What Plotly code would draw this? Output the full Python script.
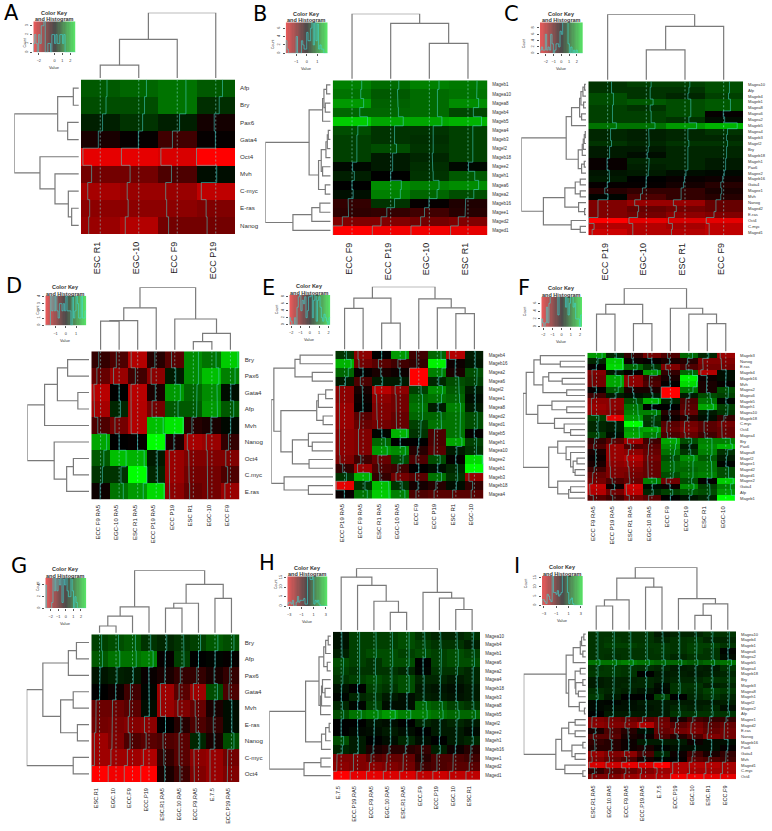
import plotly.graph_objects as go

# ---------- data: every value (scale -1 red ... 0 black ... +1 green) ----------
A_cols = ["ESC R1", "EGC-10", "ECC F9", "ECC P19"]
A_rows = ["Afp", "Bry", "Pax6", "Gata4", "Oct4", "Mvh", "C-myc", "E-ras", "Nanog"]
A_values = [
    [.35, .4, .45, .35], [.3, .3, .45, .18], [.12, .2, .12, -.08], [-.1, -.02, -.25, -.02],
    [-.9, -.9, -.85, -1], [-.45, -.45, -.3, .05], [-.65, -.6, -.6, -.75],
    [-.55, -.55, -.55, -.5], [-.6, -.7, -.45, -.45]]
A_coltree = (1, (.6, (.215, 0, 0), 0), 0)
A_rowtree = (1, (.35, (.115, 0, 0), (.2, 0, 0)), (.615, 0, (.39, 0, (.19, 0, (.14, 0, 0)))))
A_keyticks = [-2, 0, 1, 2]
A_countticks = [0, 1, 2, 3]

B_cols = ["ECC F9", "ECC P19", "EGC-10", "ESC R1"]
B_rows = ["Mageb1", "Magea10", "Magea8", "Mageb4", "Mageb5", "Magea4", "Mageb3", "Magel2", "Mageb18",
          "Magee2", "Mageh1", "Magea6", "Magea2", "Mageb16", "Magee1", "Maged2", "Maged1"]
B_values = [
    [.5, .42, .5, .47], [.45, .35, .42, .45], [.6, .38, .42, .55], [.4, .4, .42, .28], [.8, .65, .65, .7],
    [.3, .2, .2, .25], [.25, .2, .18, .25], [.25, .3, .2, .25], [.25, .1, .15, .25], [.03, .1, .18, .03],
    [.12, 0, .2, .35], [0, .55, .5, .55], [.06, .5, .4, .3], [-.2, .2, -.02, -.12], [-.18, -.2, -.25, -.15],
    [-.5, -.5, -.45, -.5], [-1, -.95, -.95, -.9]]
B_coltree = (1, 0, (.855, 0, (.555, 0, 0)))
B_rowtree = (1, (.35, (.15, (.13, (.09, 0, 0), (.11, 0, 0)), 0),
                 (.21, (.17, (.1, (.08, (.065, 0, 0), 0), 0), (.15, 0, 0)), (.11, 0, 0))),
             (.59, (.31, (.19, 0, 0), 0), 0))
B_keyticks = [-1, 0, 1]
B_countticks = [0, 2, 4, 6]

C_cols = ["ECC P19", "EGC-10", "ESC R1", "ECC F9"]
C_rows = ["Magea10", "Afp", "Mageb4", "Mageb1", "Magea8", "Magea6", "Magea2", "Mageb5", "Magea4", "Mageb3",
          "Magel2", "Bry", "Mageb18", "Mageh1", "Pax6", "Magee2", "Mageb16", "Gata4", "Magee1", "Mvh",
          "Nanog", "Maged2", "E-ras", "Oct4", "C-myc", "Maged1"]
C_values = [
    [.2, .25, .25, .3], [.2, .2, .2, .3], [.3, .2, .15, .25], [.3, .35, .3, .35], [.25, .2, .3, .35],
    [.25, .25, .3, -.02], [.25, .25, .2, .05], [.45, .45, .6, .7], [.15, .12, .15, .2], [.15, .12, .15, .15],
    [.2, .15, .2, .2], [.1, .1, .15, .15], [.1, .05, .15, .15], [-.03, .15, .15, .1], [-.03, .12, .15, .1],
    [.08, .1, .05, .03], [.1, 0, -.03, -.05], [-.02, -.02, -.08, -.15], [-.15, -.2, -.2, -.1],
    [.02, -.3, -.2, -.15], [-.5, -.6, -.6, -.4], [-.5, -.4, -.45, -.4], [-.5, -.45, -.55, -.5],
    [-1, -.9, -.85, -.9], [-.7, -.7, -.65, -.75], [-.8, -.7, -.7, -.75]]
C_coltree = (1, 0, (.82, (.47, 0, 0), 0))
C_rowtree = (1, (.33, (.25, (.13, (.11, (.08, (.055, 0, 0), 0), (.07, 0, 0)), (.1, 0, 0)), 0),
                 (.15, (.09, (.075, (.06, (.045, 0, 0), 0), 0), 0), (.1, (.06, 0, 0), 0))),
             (.67, (.35, (.195, (.12, 0, 0), (.12, 0, 0)), (.145, 0, (.055, 0, 0))),
              (.255, 0, (.12, 0, 0))))
C_keyticks = [-2, -1, 0, 1, 2]
C_countticks = [0, 2, 4, 6, 8]

D_cols = ["ECC F9 RA5", "EGC-10 RA5", "ESC R1 RA5", "ECC P19 RA5", "ECC P19", "ESC R1", "EGC-10", "ECC F9"]
D_rows = ["Bry", "Pax6", "Gata4", "Afp", "Mvh", "Nanog", "Oct4", "C.myc", "E.ras"]
D_values = [
    [-.2, -.3, -.7, -.15, -.35, .55, .45, .8], [-.4, -.6, -.25, -.55, .1, .55, .75, .5],
    [-.72, 0, -.72, -.1, .6, .4, .55, .05], [-.65, .15, -.7, -.45, .35, .35, .6, .35],
    [-.3, -.45, -.7, .75, .9, -.15, -.1, .03], [.65, 0, -.02, 1, -.1, -.65, -.6, -.2],
    [.35, .75, .7, .1, -.6, -.5, -.5, -.5], [.2, .2, 1, .15, -.6, -.45, -.45, -.3],
    [-.05, .45, .6, .85, -.55, -.4, -.45, -.6]]
D_coltree = (1, (.68, (.48, (.47, 0, 0), 0), 0), (.505, 0, (.28, (.15, 0, 0), 0)))
D_rowtree = (1, (.73, (.53, (.37, 0, 0), (.21, 0, 0)), 0), (.58, 0, (.385, (.28, 0, 0), 0)))
D_keyticks = [-1, 0, 1]
D_countticks = [0, 1, 2, 3, 4]

E_cols = ["ECC P19 RA5", "ECC F9 RA5", "ESC R1 RA5", "EGC-10 RA5", "ECC F9", "ECC P19", "ESC R1", "EGC-10"]
E_rows = ["Mageb4", "Mageb16", "Magea2", "Magea6", "Magel2", "Magee1", "Magea8", "Maged2", "Maged1", "Mageb5",
          "Mageh1", "Magea10", "Magee2", "Mageb1", "Mageb3", "Mageb18", "Magea4"]
E_values = [
    [.2, -.55, 0, .6, -.25, .4, -.7, .1], [.7, -.45, -.35, -.25, -.2, .95, -.05, .08],
    [.4, -.02, -.1, -.05, -1, .5, -.1, .3], [.1, -.3, .1, .1, -1, .15, .3, .25],
    [-.55, -.1, -.72, -.55, .25, .55, .35, .1], [-.55, -.05, -.55, -.45, .4, .45, .4, .05],
    [-.6, -.02, -.5, -.45, .45, .1, .5, .1], [-.6, -.35, -.5, -.4, .4, .4, .45, .3],
    [-.6, -.4, -.45, -.4, .25, .45, .45, .3], [-.55, -.5, .02, .7, .2, -.3, .45, -.02],
    [-.55, -.5, .4, 0, 0, -.3, .65, .25], [-.55, -.5, .6, .55, -.15, -.35, .1, .2],
    [-.5, -.25, -.4, .3, -.3, .3, -.02, .85], [-.2, -.6, -.3, -.25, 0, .05, .15, 1],
    [.2, .7, -.2, -.45, -.35, .45, .2, -.6], [-.9, .2, .75, .2, -.08, -.15, .05, -.2],
    [-.03, .45, .8, .5, -.3, -.35, -.35, -.35]]
E_coltree = (1, (.82, (.66, 0, 0), (.43, 0, 0)), (.81, 0, (.67, 0, (.58, 0, 0))))
E_rowtree = (1, (.96, (.63, (.55, 0, 0), (.36, 0, 0)),
                 (.85, (.29, (.265, (.15, 0, 0), 0), (.19, 0, 0)),
                  (.67, (.42, 0, (.36, 0, 0)), (.41, 0, 0)))),
             (.8, 0, (.42, 0, 0)))
E_keyticks = [-2, -1, 0, 1, 2]
E_countticks = [0, 2, 4, 6, 8]

F_cols = ["ECC F9 RA5", "ECC P19 RA5", "ESC R1 RA5", "EGC-10 RA5", "ECC F9", "ECC P19", "ESC R1", "EGC-10"]
F_rows = ["Mageb3", "Nanog", "E.ras", "Mageb4", "Mageb16", "Mvh", "Magea2", "Magea6", "Mageb5", "Mageh1",
          "Magea10", "Mageb18", "C.myc", "Oct4", "Magea4", "Bry", "Pax6", "Magea8", "Magel2", "Magee1",
          "Maged2", "Maged1", "Magee2", "Gata4", "Afp", "Mageb1"]
F_values = [
    [.6, .15, -.2, -.45, -.3, .4, .15, -.6], [.15, .8, -.05, -.02, -.1, -.15, -.5, -.5],
    [-.02, .85, .4, .2, -.5, -.3, -.45, -.45], [-.5, .1, -.02, .6, -.2, .4, -.7, .05],
    [-.45, .65, -.55, -.25, -.1, .95, -.05, .05], [-.45, .65, -.55, -.3, -.02, .85, -.1, -.02],
    [-.02, .35, -.1, -.1, -1, .45, -.1, .3], [-.25, .1, .05, .1, -1, .1, .3, .25],
    [-.55, -.55, .3, .7, .15, -.3, .45, .02], [-.6, -.55, .45, 0, 0, -.35, .65, .25],
    [-.55, -.5, .5, .5, -.15, -.4, .1, .2], [.25, -.9, .6, .25, -.05, -.15, .05, -.2],
    [.15, .1, 1, .2, -.35, -.45, -.35, -.45], [.15, .1, .6, .65, -.4, -.5, -.35, -.4],
    [.25, .05, .65, .5, -.3, -.4, -.25, -.4], [-.2, -.35, -.65, -.25, .65, .3, .5, .5],
    [-.3, -.6, -.3, -.35, .55, .1, .55, .7], [-.1, -.6, -.55, -.4, .45, .2, .5, .2],
    [-.05, -.6, -.7, -.45, .3, .55, .35, .1], [-.1, -.55, -.6, -.4, .4, .45, .45, .02],
    [-.25, -.5, -.5, -.4, .4, .4, .45, .3], [-.4, -.5, -.45, -.4, .3, .45, .5, .3],
    [-.45, -.3, -.4, .5, -.45, .3, -.02, .8], [-.75, -.05, -.8, .05, -.05, .55, .25, .5],
    [-.7, -.45, -.75, .15, .25, .35, .3, .6], [-.35, -.25, -.45, -.35, 0, .08, .15, 1]]
F_coltree = (1, (.75, (.6, 0, 0), (.45, 0, 0)), (.69, 0, (.6, 0, (.45, 0, 0))))
F_rowtree = (1, (.95, (.83, (.73, 0, (.42, 0, 0)), (.69, (.6, 0, (.39, 0, 0)), (.32, 0, 0))),
                 (.77, (.55, 0, (.32, 0, 0)), (.51, 0, (.36, 0, (.26, 0, 0))))),
             (.6, (.46, 0, (.33, 0, (.26, 0, (.22, (.16, 0, 0), (.19, 0, 0))))),
              (.46, 0, (.29, (.26, 0, 0), 0))))
F_keyticks = [-2, -1, 0, 1, 2]
F_countticks = [0, 2, 4, 6]

G_cols = ["ESC.R1", "EGC.10", "ECC.F9", "ECC.P19", "ESC.R1.RA5", "EGC.10.RA5", "ECC.F9.RA5", "E.7.5", "ECC.P19.RA5"]
G_rows = ["Bry", "Afp", "Pax6", "Gata4", "Mvh", "E-ras", "Nanog", "C-myc", "Oct4"]
G_values = [
    [.25, .3, .35, .2, .15, .2, .25, .35, .3], [.35, .45, .45, .5, -.02, .25, 0, .02, -.02],
    [.08, .12, .1, -.03, -.1, -.2, -.2, -.1, -.2], [0, -.05, -.25, .02, -.62, -.35, -.62, .3, -.3],
    [-.42, -.42, -.35, .05, -.6, -.5, -.4, -.1, .05], [-.45, -.48, -.52, -.55, 0, -.15, -.3, -.2, .05],
    [-.62, -.5, -.3, -.35, -.3, -.35, .15, -.1, .3], [-.62, -.62, -.62, -.68, -.2, -.35, -.55, -.6, -.45],
    [-1, -.95, -1, -1, -.1, -.25, -.5, -.6, -.5]]
G_coltree = (1, (.43, (.285, (.13, 0, 0), 0), 0), (.78, (.485, (.41, 0, 0), 0), (.56, 0, 0)))
G_rowtree = (1, (.75, (.355, (.23, 0, 0), 0), (.475, (.28, 0, 0), (.215, 0, 0))), (.28, 0, 0))
G_keyticks = [-2, -1, 0, 1, 2]
G_countticks = [0, 2, 4]

H_cols = ["E.7.5", "ECC.P19.RA5", "ECC.F9.RA5", "EGC.10.RA5", "ESC.R1.RA5", "ECC.F9", "ECC.P19", "EGC.10", "ESC.R1"]
H_rows = ["Magea10", "Mageb4", "Mageb1", "Magea6", "Magea2", "Magea4", "Mageb18", "Mageb3", "Magea8", "Mageb5",
          "Magel2", "Magee2", "Mageh1", "Mageb16", "Magee1", "Maged2", "Maged1"]
H_values = [
    [.07, .25, .25, .25, .3, .2, .15, .15, .2], [.07, .25, .25, .25, .3, .25, .2, .2, .12],
    [.12, .25, .3, .3, .25, .3, .25, .3, .25], [.3, .25, .2, .3, .3, 0, .25, .3, .3],
    [.25, .2, .2, .2, .15, .02, .2, .2, .15], [.2, .25, .3, .25, .3, .15, .15, .1, .15],
    [.07, 0, .25, .2, .3, .1, .08, .05, .1], [.02, .15, .2, .1, .05, .12, .1, .07, .1],
    [.15, .02, .25, .05, .05, .4, .35, .25, .2], [.3, .45, .5, .6, .5, .5, .45, .4, .4],
    [0, 0, .08, .05, 0, .15, .1, .15, .1], [0, .03, .05, .1, .05, 0, .1, .1, .04],
    [.3, .1, 0, .05, .15, .05, 0, .1, .15], [.15, .1, -.1, -.15, -.15, -.2, .12, -.05, -.15],
    [-.5, -.5, -.35, -.4, -.4, -.15, -.3, -.3, -.25], [-.55, -.5, -.55, -.5, -.45, -.25, -.3, -.35, -.35],
    [-1, -.9, -.9, -.85, -.85, -.75, -.8, -.75, -.75]]
H_coltree = (1, (.86, 0, (.73, 0, (.48, 0, (.305, 0, 0)))), (.62, 0, (.53, 0, (.35, 0, 0))))
H_rowtree = (1, (.43, (.22, (.145, (.115, (.075, 0, 0), 0), (.09, 0, 0)),
                       (.195, (.18, (.165, 0, (.125, 0, 0)), 0), 0)),
                 (.18, (.115, (.06, 0, 0), 0), 0)),
             (.455, (.19, 0, 0), 0))
H_keyticks = [-3, -1, 1, 3]
H_countticks = [0, 5, 10, 15]

I_cols = ["ESC.R1.RA5", "EGC.10.RA5", "ECC.F9.RA5", "ECC.P19.RA5", "E.7.5", "ECC.P19", "EGC.10", "ESC.R1", "ECC.F9"]
I_rows = ["Magea10", "Mageb4", "Mageb1", "Magea6", "Magea2", "Mageb5", "Magea4", "Mageb18", "Bry", "Mageb3",
          "Magea8", "Mageh1", "Magel2", "Magee2", "Afp", "Magee1", "Maged2", "E-ras", "Nanog", "Mageb16",
          "Pax6", "Gata4", "Mvh", "Maged1", "C-myc", "Oct4"]
I_values = [
    [.2, .2, .2, .2, .1, .15, .15, .2, .2], [.2, .22, .2, .2, .15, .2, .22, .15, .15],
    [.2, .25, .25, .22, .22, .2, .25, .25, .2], [.2, .2, .2, .2, .22, .2, .25, .2, .02],
    [.2, .18, .2, .2, .2, .15, .2, .2, .05], [.45, .45, .5, .45, .4, .4, .35, .4, .45],
    [.2, .22, .2, .18, .15, .1, .12, .1, .2], [.22, .22, .2, 0, .1, .12, .1, .12, .15],
    [.1, .13, .13, .15, .12, .15, .15, .2, .2], [.1, .13, .15, .15, .05, .2, .2, .12, .15],
    [.18, .15, .12, .08, .03, .2, .18, .25, .22], [.22, .1, 0, 0, .25, 0, .15, .2, .15],
    [.03, .02, .05, .1, .1, .1, .1, .1, .12], [.03, .06, .06, .08, .1, .15, .12, .15, .05],
    [0, .1, .1, .1, .1, .2, .2, .2, .2], [-.5, -.45, -.4, -.35, -.4, -.1, -.25, -.2, -.2],
    [-.55, -.5, -.5, -.7, -.45, -.35, -.45, -.35, -.4], [-.1, -.3, -.15, .05, -.4, -.45, -.5, -.4, -.45],
    [-.35, -.35, -.1, -.05, -.3, -.15, -.3, -.5, -.45], [-.2, -.15, -.05, .1, .1, .1, -.05, .05, .05],
    [-.15, -.15, -.05, -.1, .02, .05, .05, .05, -.02], [-.6, -.5, -.55, -.3, .15, -.05, -.25, -.1, -.2],
    [-.5, -.4, -.3, -.1, .02, -.02, -.35, -.3, -.25], [-.85, -.8, -.9, -.85, -1, -.7, -.7, -.7, -.65],
    [-.2, -.35, -.4, -.5, -.6, -.7, -.65, -.65, -.65], [-.5, -.5, -.6, -.65, -.7, -.95, -.95, -.9, -.9]]
I_coltree = (1, (.83, (.49, (.395, 0, 0), 0), (.69, 0, 0)), (.51, 0, (.43, (.25, 0, 0), 0)))
I_rowtree = (1, (.34, (.23, (.12, (.1, (.065, 0, 0), 0), (.08, 0, 0)), 0),
                 (.3, (.2, (.12, 0, 0), (.19, (.08, 0, 0), (.15, 0, 0))), (.135, 0, (.055, 0, 0)))),
             (.5, (.41, (.3, (.2, 0, 0), (.2, 0, 0)), (.25, (.08, 0, 0), (.2, 0, 0))),
              (.36, 0, (.08, 0, 0))))
I_keyticks = [-3, -1, 1, 3]
I_countticks = [0, 5, 10, 15]

# ---------- layout (pixels of the 772x831 page) ----------
W, H = 772, 831
# letter, cols, rows, values, coltree, rowtree, keyticks, countticks,
# heat(l,r,t,b), key(l,r,t,b), rowleft, coltop, row font, col font, col gap, key half range, count max, letter xy
PANELS = [
    ("A", A_cols, A_rows, A_values, A_coltree, A_rowtree, A_keyticks, A_countticks,
     (81, 235, 79.5, 234), (33.3, 75.7, 21.3, 52.3), 14.3, 12.7, 6.2, 9, 7, 2.7, 3.5, (11.5, 13)),
    ("B", B_cols, B_rows, B_values, B_coltree, B_rowtree, B_keyticks, B_countticks,
     (332.7, 487.3, 80.3, 235), (285.7, 327.7, 22.3, 53.3), 265.3, 13.7, 4.5, 9, 7, 2.0, 7.4, (260, 14)),
    ("C", C_cols, C_rows, C_values, C_coltree, C_rowtree, C_keyticks, C_countticks,
     (588.3, 743, 81.3, 235.3), (540, 582.7, 22.3, 53.3), 521.3, 14.3, 4.1, 9, 7, 2.75, 9.8, (511, 14)),
    ("D", D_cols, D_rows, D_values, D_coltree, D_rowtree, D_keyticks, D_countticks,
     (91.3, 239.7, 351.3, 499.7), (45.3, 86.3, 295.7, 325.3), 27.3, 287.3, 6.2, 6, 5, 2.0, 4.1, (14, 286)),
    ("E", E_cols, E_rows, E_values, E_coltree, E_rowtree, E_keyticks, E_countticks,
     (335.3, 483.7, 350.7, 498.7), (289.3, 330.3, 295, 324.7), 271.3, 286.7, 4.5, 6, 5, 2.2, 8.5, (268.5, 287.5)),
    ("F", F_cols, F_rows, F_values, F_coltree, F_rowtree, F_keyticks, F_countticks,
     (587.3, 735, 352.7, 501), (541.3, 582, 297, 326.7), 523, 288.3, 4.1, 6, 5, 2.2, 7.6, (523.5, 287.5)),
    ("G", G_cols, G_rows, G_values, G_coltree, G_rowtree, G_keyticks, G_countticks,
     (91.3, 239.7, 634.3, 782), (45.3, 86.3, 578, 608.3), 26.7, 570.3, 6.2, 5.6, 6, 2.7, 5.2, (19, 566)),
    ("H", H_cols, H_rows, H_values, H_coltree, H_rowtree, H_keyticks, H_countticks,
     (333, 480.3, 631.7, 780), (287.3, 327.7, 576.3, 606), 269.3, 568.3, 4.5, 5.6, 6, 3.3, 15.7, (266.5, 563)),
    ("I", I_cols, I_rows, I_values, I_coltree, I_rowtree, I_keyticks, I_countticks,
     (588, 736, 631.3, 779.3), (542, 582.7, 576, 605.3), 523.7, 567.3, 4.1, 5.6, 6, 3.3, 16, (516.5, 566)),
]
HEAT_SCALE = [[0, "#ff0000"], [.5, "#000000"], [1, "#00ff00"]]
KEY_SCALE = [[0, "#ea5a5a"], [.5, "#4c4a4a"], [1, "#58e868"]]
TRACE = "rgba(70,215,210,0.6)"
VLINE = "rgba(140,235,235,0.75)"
DENDRO = "#7a7a7a"
KEY_BINS = 32
SANS = "Liberation Sans"

fig = go.Figure()
layout = {}
annotations = []
axis_no = [0]


def new_axes(l, r, t, b, xcfg, ycfg):
    axis_no[0] += 1
    n = axis_no[0]
    base = dict(showgrid=False, zeroline=False, showline=False, ticks="", showticklabels=False, fixedrange=True)
    layout[f"xaxis{n}"] = {**base, "domain": [l / W, r / W], "anchor": f"y{n}", **xcfg}
    layout[f"yaxis{n}"] = {**base, "domain": [1 - b / H, 1 - t / H], "anchor": f"x{n}", **ycfg}
    return f"x{n}", f"y{n}"


def walk(node, state, leaf_h, pos, hgt):
    if node == 0:
        p = state[0]
        state[0] += 1
        return p, leaf_h
    h, a, b = node
    ap, ah = walk(a, state, leaf_h, pos, hgt)
    bp, bh = walk(b, state, leaf_h, pos, hgt)
    pos += [ap, ap, bp, bp, None]
    hgt += [ah, h, h, bh, None]
    return (ap + bp) / 2, h


def add_dendro(tree, leaf_h, xa, ya, horizontal):
    pos, hgt = [], []
    walk(tree, [0], leaf_h, pos, hgt)
    xs, ys = (hgt, pos) if horizontal else (pos, hgt)
    fig.add_trace(go.Scatter(x=xs, y=ys, mode="lines", xaxis=xa, yaxis=ya, hoverinfo="skip",
                             line=dict(color=DENDRO, width=1.2), showlegend=False))


for (letter, cols, rows, vals, ctree, rtree, kticks, cticks, heat, key, rleft, ctop,
     rfont, cfont, cgap, krange, cmax, lxy) in PANELS:
    hl, hr, ht, hb = heat
    nr, nc = len(rows), len(cols)
    # heat map with its row and column labels on the axes
    xa, ya = new_axes(hl, hr, ht, hb,
                      dict(range=[-.5, nc - .5], tickmode="array", tickvals=list(range(nc)), ticktext=cols,
                           showticklabels=True, tickangle=-90, ticklabelstandoff=cgap - 2,
                           ticklabelshift=-3, tickfont=dict(family=SANS, size=cfont, color="#222222")),
                      dict(range=[nr - .5, -.5], side="right", tickmode="array", tickvals=list(range(nr)),
                           ticktext=rows, showticklabels=True, ticklabelstandoff=4,
                           tickfont=dict(family=SANS, size=rfont, color="#333333")))
    fig.add_trace(go.Heatmap(z=vals, zmin=-1, zmax=1, colorscale=HEAT_SCALE, showscale=False,
                             hoverinfo="skip", xaxis=xa, yaxis=ya))
    # dashed column centres and the stepped trace line of each column
    vx, vy, tx, ty = [], [], [], []
    for c in range(nc):
        vx += [c, c, None]
        vy += [-.5, nr - .5, None]
        for r in range(nr):
            tx += [c + vals[r][c] * .5] * 2
            ty += [r - .5, r + .5]
        tx.append(None)
        ty.append(None)
    fig.add_trace(go.Scatter(x=vx, y=vy, mode="lines", xaxis=xa, yaxis=ya, hoverinfo="skip", showlegend=False,
                             line=dict(color=VLINE, width=.7, dash="2px,2px")))
    fig.add_trace(go.Scatter(x=tx, y=ty, mode="lines", xaxis=xa, yaxis=ya, hoverinfo="skip", showlegend=False,
                             line=dict(color=TRACE, width=.9)))
    # dendrograms
    xa2, ya2 = new_axes(rleft, hl, ht, hb, dict(range=[1, 0]), dict(range=[nr - .5, -.5]))
    add_dendro(rtree, 2.3 / (hl - rleft), xa2, ya2, True)
    xa3, ya3 = new_axes(hl, hr, ctop, ht, dict(range=[-.5, nc - .5]), dict(range=[0, 1]))
    add_dendro(ctree, 1.5 / (ht - ctop), xa3, ya3, False)
    # colour key with the histogram of the panel's values
    kl, kr, kt, kb = key
    xa4, ya4 = new_axes(kl, kr, kt, kb,
                        dict(range=[-krange, krange], tickmode="array", tickvals=kticks, showticklabels=True,
                             ticks="outside", ticklen=2, tickwidth=.5, tickcolor="#555555",
                             tickfont=dict(family=SANS, size=3.8, color="#333333"), ticklabelstandoff=2),
                        dict(range=[0, cmax], tickmode="array", tickvals=cticks, showticklabels=True,
                             ticks="outside", ticklen=2, tickwidth=.5, tickcolor="#555555", tickangle=-90,
                             tickfont=dict(family=SANS, size=3.8, color="#333333"), ticklabelstandoff=1))
    edges = [-krange + 2 * krange * i / KEY_BINS for i in range(KEY_BINS + 1)]
    mids = [(edges[i] + edges[i + 1]) / 2 for i in range(KEY_BINS)]
    fig.add_trace(go.Heatmap(z=[[m / krange for m in mids]], x=edges, y=[0, cmax], zmin=-1, zmax=1,
                             colorscale=KEY_SCALE, showscale=False, hoverinfo="skip", xaxis=xa4, yaxis=ya4))
    counts = [0] * KEY_BINS
    for row in vals:
        for v in row:
            counts[min(KEY_BINS - 1, int((v + 1) / 2 * KEY_BINS))] += 1
    hx, hy = [edges[0]], [0]
    for i in range(KEY_BINS):
        hx += [edges[i], edges[i + 1]]
        hy += [counts[i], counts[i]]
    fig.add_trace(go.Scatter(x=hx, y=hy, mode="lines", xaxis=xa4, yaxis=ya4, hoverinfo="skip", showlegend=False,
                             line=dict(color="rgba(60,220,215,0.75)", width=.8)))
    kc = (kl + kr) / 2
    for txt, yy, size in (("<b>Color Key</b>", kt - 8.6, 5.5), ("<b>and Histogram</b>", kt - 2, 5.5),
                          ("Value", kb + 15, 4)):
        annotations.append(dict(text=txt, x=kc / W, y=1 - yy / H, xref="paper", yref="paper", showarrow=False,
                                xanchor="center", yanchor="middle",
                                font=dict(family=SANS, size=size, color="#333333")))
    annotations.append(dict(text="Count", x=(kl - 12) / W, y=1 - (kt + kb) / 2 / H, xref="paper", yref="paper",
                            showarrow=False, textangle=-90, font=dict(family=SANS, size=3.5, color="#333333")))
    annotations.append(dict(text=letter, x=lxy[0] / W, y=1 - lxy[1] / H, xref="paper", yref="paper",
                            showarrow=False, xanchor="center", yanchor="middle",
                            font=dict(family="DejaVu Sans", size=21, color="#000000")))

fig.update_layout(width=W, height=H, margin=dict(l=0, r=0, t=0, b=0), paper_bgcolor="white",
                  plot_bgcolor="white", showlegend=False, annotations=annotations, **layout)
fig.write_html("out.html", config=dict(displayModeBar=False),
               post_script="document.body.style.margin='0';")
